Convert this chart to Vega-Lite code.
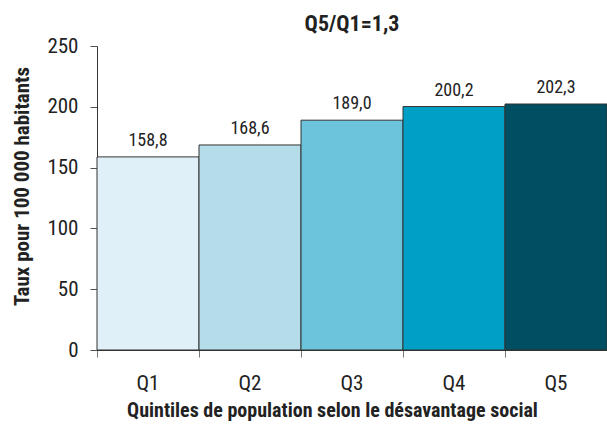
{
  "$schema": "https://vega.github.io/schema/vega-lite/v6.json",
  "autosize": "none",
  "width": 510,
  "height": 304,
  "padding": {"left": 97, "top": 46, "right": 0, "bottom": 74},
  "config": {
    "font": "Roboto Condensed, DejaVu Sans Condensed, sans-serif",
    "view": {"stroke": null},
    "locale": {"number": {"decimal": ",", "thousands": " ", "grouping": [3], "currency": ["", " €"]}}
  },
  "title": {"text": "Q5/Q1=1,3", "fontSize": 22, "fontWeight": "bold", "color": "#222", "offset": -1, "anchor": "middle"},
  "data": {"values": [
    {"q": "Q1", "taux": 158.8},
    {"q": "Q2", "taux": 168.6},
    {"q": "Q3", "taux": 189.0},
    {"q": "Q4", "taux": 200.2},
    {"q": "Q5", "taux": 202.3}
  ]},
  "encoding": {
    "x": {"field": "q", "type": "nominal", "sort": null,
      "scale": {"paddingInner": 0, "paddingOuter": 0},
      "axis": {"title": "Quintiles de population selon le désavantage social", "labelAngle": 0,
        "labelFontSize": 21, "labelColor": "#222", "labelPadding": 15,
        "titleFontSize": 20, "titleFontWeight": "bold", "titleColor": "#222", "titlePadding": 7, "titleX": 235,
        "domainColor": "#333", "tickColor": "#777", "tickSize": 7, "bandPosition": 0}},
    "y": {"field": "taux", "type": "quantitative",
      "scale": {"domain": [0, 250]},
      "axis": {"title": "Taux pour 100 000 habitants", "values": [0, 50, 100, 150, 200, 250], "grid": false,
        "labelFontSize": 21, "labelColor": "#222", "labelPadding": 12,
        "titleFontSize": 21, "titleFontWeight": "bold", "titleColor": "#222", "titlePadding": 14, "titleY": 140,
        "domainColor": "#333", "tickColor": "#555", "tickSize": 7}}
  },
  "layer": [
    {"mark": {"type": "bar", "stroke": "#333", "strokeWidth": 1},
      "encoding": {"color": {"field": "q", "type": "nominal", "legend": null,
        "scale": {"domain": ["Q1", "Q2", "Q3", "Q4", "Q5"], "range": ["#e0f0f8", "#b4dde9", "#6cc4dc", "#00a0c6", "#004e62"]}}}},
    {"mark": {"type": "text", "dy": -16, "fontSize": 18, "color": "#222"},
      "encoding": {"text": {"field": "taux", "type": "quantitative", "format": ".1f"}}}
  ]
}
